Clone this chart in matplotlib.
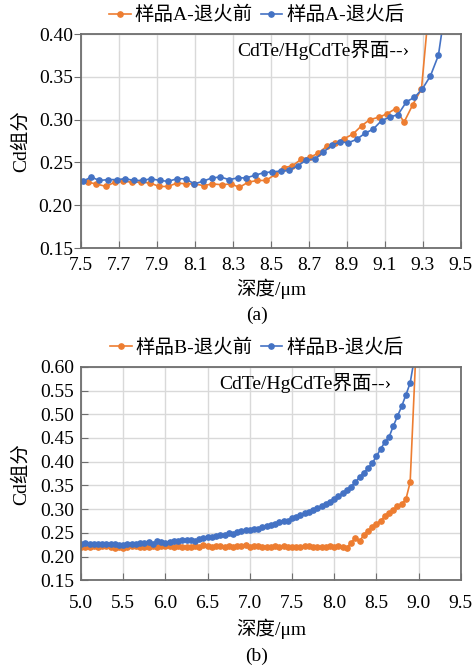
import matplotlib
matplotlib.use('Agg')
import matplotlib.pyplot as plt

plt.rcParams['font.family'] = ['Liberation Serif', 'Noto Sans CJK SC', 'DejaVu Sans']
plt.rcParams['axes.unicode_minus'] = False

# (a) sample A
a_before_x = [7.49, 7.535, 7.579, 7.632, 7.677, 7.723, 7.768, 7.817, 7.865, 7.910, 7.958,
              8.005, 8.054, 8.096, 8.145, 8.192, 8.241, 8.289, 8.334, 8.380, 8.429,
              8.474, 8.522, 8.567, 8.613, 8.660, 8.706, 8.750, 8.794, 8.839, 8.887,
              8.931, 8.978, 9.021, 9.071, 9.113, 9.157, 9.201, 9.246, 9.293, 9.34]
a_before_y = [0.228, 0.227, 0.225, 0.222, 0.227, 0.228, 0.227, 0.227, 0.226, 0.222, 0.222,
              0.226, 0.225, 0.225, 0.223, 0.225, 0.224, 0.225, 0.221, 0.227, 0.229,
              0.229, 0.236, 0.244, 0.246, 0.254, 0.256, 0.261, 0.269, 0.273, 0.278,
              0.283, 0.293, 0.300, 0.303, 0.307, 0.313, 0.297, 0.317, 0.336, 0.45]
a_after_x = [7.509, 7.553, 7.596, 7.642, 7.688, 7.733, 7.779, 7.824, 7.868, 7.914, 7.959,
             8.005, 8.050, 8.096, 8.141, 8.189, 8.234, 8.280, 8.325, 8.369, 8.415,
             8.461, 8.506, 8.552, 8.597, 8.641, 8.687, 8.732, 8.776, 8.820, 8.864,
             8.908, 8.951, 8.995, 9.039, 9.083, 9.127, 9.170, 9.214, 9.256, 9.298,
             9.340, 9.382, 9.425]
a_after_y = [0.228, 0.233, 0.229, 0.230, 0.230, 0.231, 0.229, 0.229, 0.231, 0.229, 0.228,
             0.231, 0.231, 0.225, 0.228, 0.232, 0.233, 0.230, 0.232, 0.232, 0.235,
             0.238, 0.239, 0.240, 0.241, 0.246, 0.253, 0.254, 0.262, 0.270, 0.274,
             0.273, 0.277, 0.284, 0.289, 0.299, 0.303, 0.306, 0.321, 0.326, 0.336,
             0.351, 0.375, 0.44]

# (b) sample B
b_x = [5.00, 5.05, 5.10, 5.15, 5.20, 5.25, 5.30, 5.35, 5.40, 5.45,
       5.50, 5.55, 5.60, 5.65, 5.70, 5.75, 5.80, 5.85, 5.90, 5.95,
       6.00, 6.05, 6.10, 6.15, 6.20, 6.25, 6.30, 6.35, 6.40, 6.45,
       6.50, 6.55, 6.60, 6.65, 6.70, 6.75, 6.80, 6.85, 6.90, 6.95,
       7.00, 7.05, 7.10, 7.15, 7.20, 7.25, 7.30, 7.35, 7.40, 7.45,
       7.50, 7.55, 7.60, 7.65, 7.70, 7.75, 7.80, 7.85, 7.90, 7.95,
       8.00, 8.05, 8.10, 8.15, 8.20, 8.25, 8.30, 8.35, 8.40, 8.45,
       8.50, 8.55, 8.60, 8.65, 8.70, 8.75, 8.80, 8.85, 8.90]
b_before_y = [0.220, 0.221, 0.220, 0.222, 0.221, 0.222, 0.222, 0.221, 0.219, 0.220,
              0.219, 0.221, 0.222, 0.222, 0.220, 0.221, 0.220, 0.222, 0.221, 0.222,
              0.223, 0.222, 0.221, 0.222, 0.220, 0.221, 0.221, 0.222, 0.220, 0.224,
              0.222, 0.221, 0.222, 0.222, 0.221, 0.222, 0.221, 0.223, 0.223, 0.224,
              0.221, 0.222, 0.222, 0.221, 0.220, 0.221, 0.222, 0.221, 0.222, 0.221,
              0.220, 0.220, 0.221, 0.222, 0.223, 0.221, 0.221, 0.220, 0.221, 0.222,
              0.221, 0.222, 0.220, 0.219, 0.229, 0.240, 0.233, 0.245, 0.254, 0.262,
              0.269, 0.276, 0.285, 0.292, 0.298, 0.307, 0.311, 0.321, 0.357]
b_after_y = [0.227, 0.228, 0.226, 0.227, 0.227, 0.226, 0.227, 0.226, 0.227, 0.224,
             0.225, 0.226, 0.226, 0.227, 0.228, 0.228, 0.231, 0.227, 0.232, 0.231,
             0.229, 0.230, 0.232, 0.233, 0.234, 0.235, 0.234, 0.233, 0.237, 0.240,
             0.241, 0.242, 0.243, 0.245, 0.246, 0.249, 0.248, 0.251, 0.253, 0.255,
             0.256, 0.258, 0.259, 0.262, 0.264, 0.266, 0.269, 0.272, 0.276, 0.276,
             0.281, 0.284, 0.287, 0.291, 0.294, 0.298, 0.302, 0.307, 0.311, 0.316,
             0.321, 0.328, 0.333, 0.340, 0.347, 0.357, 0.367, 0.377, 0.386, 0.397,
             0.411, 0.427, 0.441, 0.452, 0.475, 0.496, 0.517, 0.541, 0.566]
b_before_tail = ([8.98], [0.68])
b_after_tail = ([8.99], [0.66])

orange = '#ED7D31'
blue = '#4472C4'
fs = 14

fig = plt.figure(figsize=(4.77, 6.67), dpi=100)
ax1 = fig.add_axes([0.170, 0.628, 0.796, 0.321])
ax2 = fig.add_axes([0.170, 0.130, 0.796, 0.320])


def style(ax, xlim, ylim, xticks, yticks, ytickdir, ypad, xpad, lpad):
    ax.set_xlim(*xlim)
    ax.set_ylim(*ylim)
    ax.set_xticks(xticks)
    ax.set_yticks(yticks)
    ax.set_xticklabels(['%.1f' % t for t in xticks], fontsize=fs)
    ax.set_yticklabels(['%.2f' % t for t in yticks], fontsize=fs)
    ax.grid(True, color='#d9d9d9', linewidth=1.0)
    ax.set_axisbelow(True)
    for s in ax.spines.values():
        s.set_color('#6e6e6e')
        s.set_linewidth(1.3)
    ax.tick_params(axis='x', direction='in', length=5, color='#6e6e6e', pad=xpad)
    ax.tick_params(axis='y', direction=ytickdir, length=5, color='#6e6e6e', pad=ypad)
    ax.set_xlabel('深度/μm', fontsize=fs, labelpad=lpad)
    ax.set_ylabel('Cd组分', fontsize=fs)
    ax.yaxis.set_label_coords(-0.135, 0.5)


mk = dict(marker='o', markersize=3.8, linewidth=1.2)
leg = dict(loc='center', ncol=2, frameon=False, fontsize=fs, handlelength=1.1,
           handletextpad=0.2, columnspacing=0.4, borderaxespad=0, borderpad=0)

ax1.plot(a_before_x, a_before_y, color=orange, label='样品A-退火前', **mk)
ax1.plot(a_after_x, a_after_y, color=blue, label='样品A-退火后', **mk)
style(ax1, (7.5, 9.5), (0.15, 0.40),
      [7.5, 7.7, 7.9, 8.1, 8.3, 8.5, 8.7, 8.9, 9.1, 9.3, 9.5],
      [0.15, 0.20, 0.25, 0.30, 0.35, 0.40], 'out', 1, 6.5, 3)
ax1.text(0.865, 0.925, 'CdTe/HgCdTe界面--›', transform=ax1.transAxes,
         ha='right', va='center', fontsize=fs)
ax1.legend(bbox_to_anchor=(0.463, 1.088), **leg)
ax1.text(0.463, -0.315, '(a)', transform=ax1.transAxes, ha='center', va='center',
         fontsize=fs)

ax2.plot(b_x + b_before_tail[0], b_before_y + b_before_tail[1], color=orange,
         label='样品B-退火前', **mk)
ax2.plot(b_x + b_after_tail[0], b_after_y + b_after_tail[1], color=blue,
         label='样品B-退火后', **mk)
style(ax2, (5.0, 9.5), (0.15, 0.60),
      [5.0, 5.5, 6.0, 6.5, 7.0, 7.5, 8.0, 8.5, 9.0, 9.5],
      [0.15, 0.20, 0.25, 0.30, 0.35, 0.40, 0.45, 0.50, 0.55, 0.60], 'in', 5, 10.5, 4.5)
ax2.text(0.818, 0.925, 'CdTe/HgCdTe界面--›', transform=ax2.transAxes,
         ha='right', va='center', fontsize=fs)
ax2.legend(bbox_to_anchor=(0.463, 1.09), **leg)
ax2.text(0.463, -0.357, '(b)', transform=ax2.transAxes, ha='center', va='center',
         fontsize=fs)

fig.savefig('out.png', dpi=100)
